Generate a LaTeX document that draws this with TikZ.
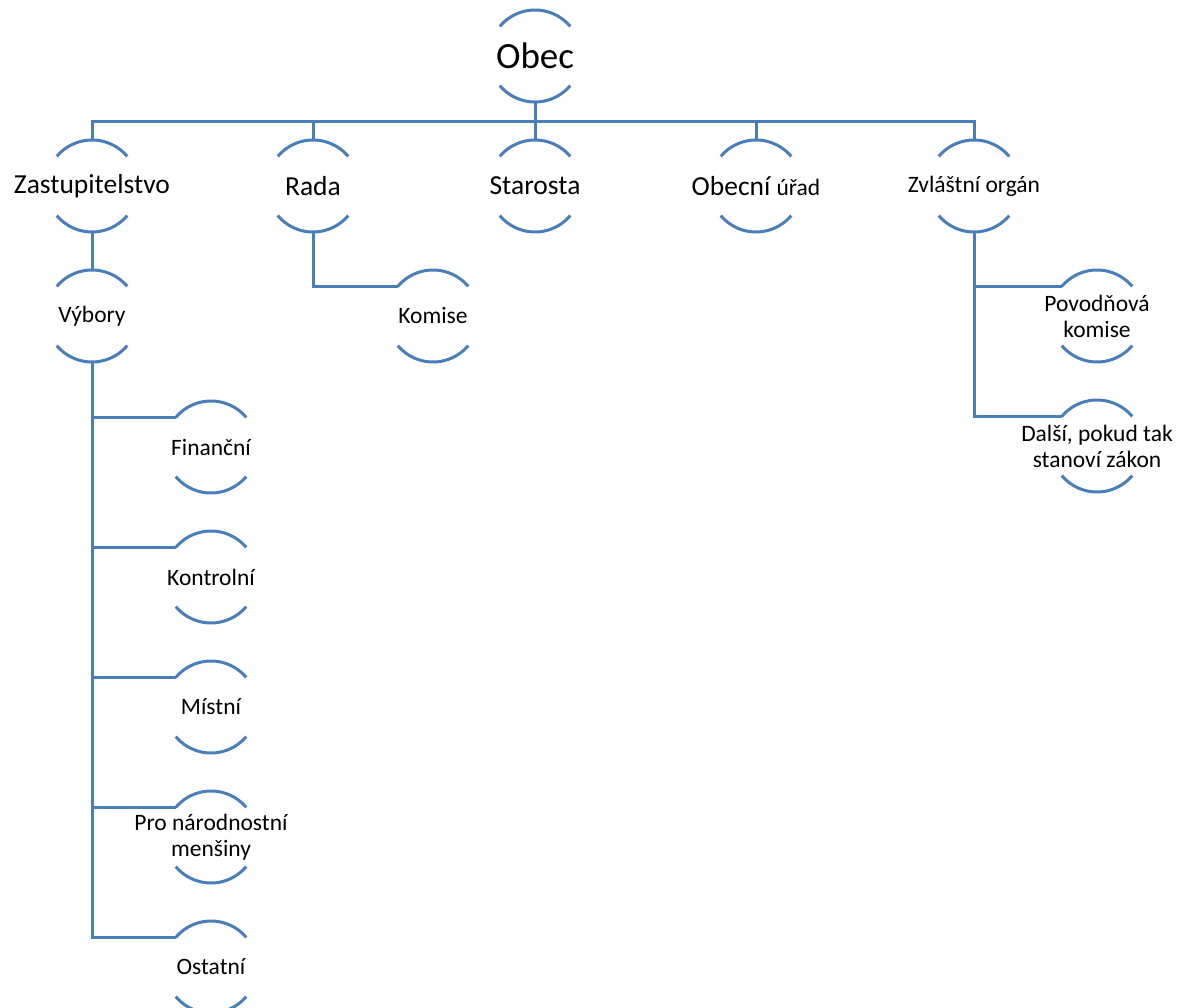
\documentclass[tikz,border=0pt]{standalone}
\usepackage{fontspec}
\setmainfont{Carlito}
\usetikzlibrary{positioning}
\definecolor{orgblue}{RGB}{74,126,187}

\begin{document}
\begin{tikzpicture}[
  x=1pt, y=1pt,
  unit/.style={circle, minimum size=92pt, inner sep=0pt, outer sep=0pt},
  top/.style={label={[font=\fontsize{37}{40}\selectfont]center:#1}},
  big/.style={label={[font=\fontsize{27.5}{30}\selectfont]center:#1}},
  small/.style={label={[font=\fontsize{23.5}{26}\selectfont, align=center]center:#1}},
  ring/.style={draw=orgblue, line width=3pt},
  link/.style={draw=orgblue, line width=3pt},
  node distance=38pt
]
\useasboundingbox (0,0) rectangle (1180,-1008);
\clip (0,0) rectangle (1180,-1008);

%% ===== top and first level =====
\node[unit, top=Obec] (obec) at (535,-56) {};
\coordinate (bus) at (535,-122);

\node[unit, big=Zastupitelstvo] (zast) at (92,-186) {};
\node[unit, big=Rada] (rada) at (313,-186) {};
\node[unit, big=Starosta] (star) at (535,-186) {};
\node[unit, big={Obecní {\fontsize{23.5}{26}\selectfont úřad}}] (urad) at (756,-186) {};
\node[unit, small={Zvláštní orgán}] (zvl) at (974,-186) {};

%% ===== second level =====
\node[unit, small=Výbory] (vyb) at (92,-316) {};
\node[unit, small=Komise] (kom) at (433,-316) {};
\node[unit, small={Povodňová\\komise}] (pov) at (1097,-316) {};
\node[unit, small={Další, pokud tak\\stanoví zákon}, below=of pov] (dal) {};

%% ===== committees =====
\node[unit, small=Finanční] (fin) at (211,-447) {};
\node[unit, small=Kontrolní, below=of fin] (kon) {};
\node[unit, small=Místní, below=of kon] (mis) {};
\node[unit, small={Pro národnostní\\menšiny}, below=of mis] (nar) {};
\node[unit, small=Ostatní, below=of nar] (ost) {};

%% ===== half rings =====
\foreach \n in {obec,zast,rada,star,urad,zvl,vyb,kom,pov,dal,fin,kon,mis,nar,ost} {
  \draw[ring] (\n.40) arc[start angle=40, end angle=140, radius=46pt];
  \draw[ring] (\n.220) arc[start angle=220, end angle=320, radius=46pt];
}

%% ===== links =====
\draw[link] (obec.south) -- (bus);
\foreach \n in {zast,rada,star,urad,zvl}
  \draw[link] (bus) -| (\n.north);
\draw[link] (zast.south) -- (vyb.north);
\draw[link] (rada.south) |- (kom.140);
\foreach \n in {pov,dal}
  \draw[link] (zvl.south) |- (\n.140);
\foreach \n in {fin,kon,mis,nar,ost}
  \draw[link] (vyb.south) |- (\n.140);

\end{tikzpicture}
\end{document}
